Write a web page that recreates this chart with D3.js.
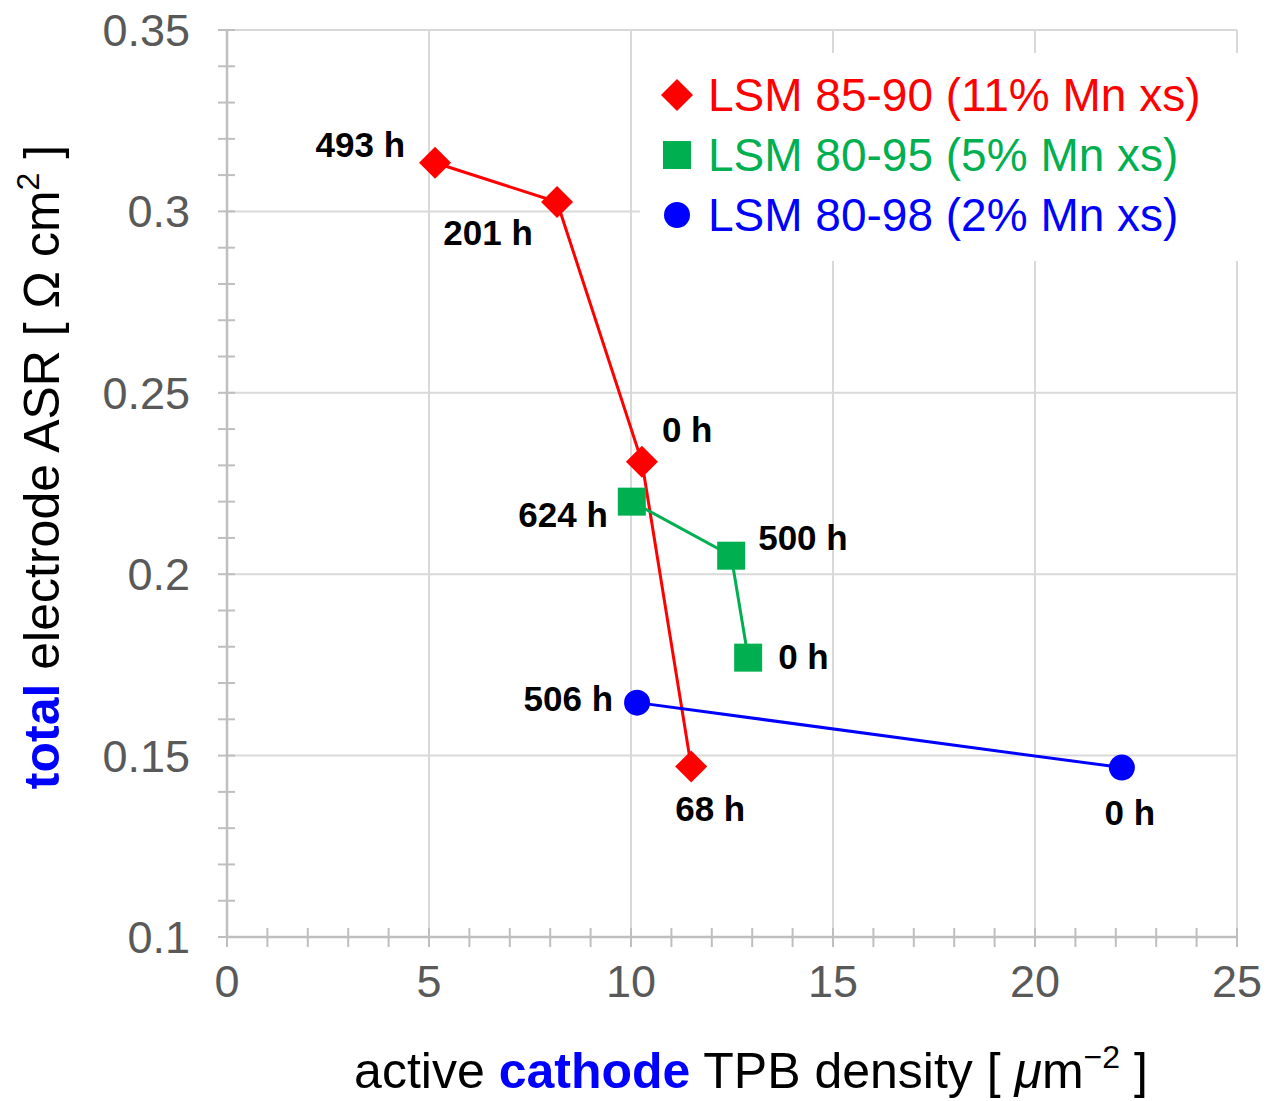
<!DOCTYPE html>
<html>
<head>
<meta charset="utf-8">
<script src="https://cdn.jsdelivr.net/npm/d3@7"></script>
<style>
  body { margin: 0; background: #fff; }
  svg { font-family: "Liberation Sans", Arial, Helvetica, sans-serif; }
</style>
</head>
<body>
<div id="chart"></div>
<script>
// series data: TPB density (x), ASR (y), ageing time labels
const seriesNames = ["LSM 85-90 (11% Mn xs)", "LSM 80-95 (5% Mn xs)", "LSM 80-98 (2% Mn xs)"];
const seriesColors = ["#ff0000", "#00b050", "#0000ff"];
const seriesShapes = ["diamond", "square", "circle"];

const redX = [5.15, 8.17, 10.27, 11.49];
const redY = [0.3134, 0.3026, 0.231, 0.147];
const redHours = ["493 h", "201 h", "0 h", "68 h"];

const greenX = [10.02, 12.48, 12.9];
const greenY = [0.220, 0.2051, 0.177];
const greenHours = ["624 h", "500 h", "0 h"];

const blueX = [10.15, 22.15];
const blueY = [0.1646, 0.1467];
const blueHours = ["506 h", "0 h"];

const xTicks = [0, 5, 10, 15, 20, 25];
const yTicks = [0.1, 0.15, 0.2, 0.25, 0.3, 0.35];

// label placement relative to each point: [dx, dy, anchor]
const redLabelPos = [[-30, -6, "end"], [-69, 43, "middle"], [20, -20, "start"], [19, 55, "middle"]];
const greenLabelPos = [[-24, 25, "end"], [27, -6, "start"], [30, 11, "start"]];
const blueLabelPos = [[-24, 8, "end"], [8, 57, "middle"]];

const series = [
  { x: redX, y: redY, hours: redHours, pos: redLabelPos },
  { x: greenX, y: greenY, hours: greenHours, pos: greenLabelPos },
  { x: blueX, y: blueY, hours: blueHours, pos: blueLabelPos }
];

const W = 1278, H = 1101;
const svg = d3.select("#chart").append("svg")
  .attr("width", W)
  .attr("height", H);

const xScale = d3.scaleLinear().domain([0, 25]).range([227, 1237]);
const yScale = d3.scaleLinear().domain([0.1, 0.35]).range([937, 30]);

const gridColor = "#d9d9d9";
const axisColor = "#bfbfbf";

// gridlines
svg.append("g").selectAll("line")
  .data(xTicks.slice(1))
  .enter().append("line")
  .attr("x1", d => xScale(d)).attr("x2", d => xScale(d))
  .attr("y1", yScale(0.35)).attr("y2", yScale(0.1))
  .attr("stroke", gridColor).attr("stroke-width", 2);

svg.append("g").selectAll("line")
  .data(yTicks.slice(1))
  .enter().append("line")
  .attr("x1", xScale(0)).attr("x2", xScale(25))
  .attr("y1", d => yScale(d)).attr("y2", d => yScale(d))
  .attr("stroke", gridColor).attr("stroke-width", 2);

// legend background covers the grid
svg.append("rect")
  .attr("x", 640).attr("y", 53)
  .attr("width", 602).attr("height", 208)
  .attr("fill", "#fff");

// axes with crossing ticks
const minorX = d3.range(0, 26, 1);
const minorY = d3.range(0.1, 0.3501, 0.01);

const xAxisG = svg.append("g");
xAxisG.append("line")
  .attr("x1", xScale(0)).attr("x2", xScale(25))
  .attr("y1", yScale(0.1)).attr("y2", yScale(0.1))
  .attr("stroke", axisColor).attr("stroke-width", 2.5);
xAxisG.selectAll("line.tick")
  .data(minorX)
  .enter().append("line")
  .attr("class", "tick")
  .attr("x1", d => xScale(d)).attr("x2", d => xScale(d))
  .attr("y1", yScale(0.1) - 9).attr("y2", yScale(0.1) + 10)
  .attr("stroke", axisColor).attr("stroke-width", 2);

const yAxisG = svg.append("g");
yAxisG.append("line")
  .attr("x1", xScale(0)).attr("x2", xScale(0))
  .attr("y1", yScale(0.35)).attr("y2", yScale(0.1))
  .attr("stroke", axisColor).attr("stroke-width", 2.5);
yAxisG.selectAll("line.tick")
  .data(minorY)
  .enter().append("line")
  .attr("class", "tick")
  .attr("x1", xScale(0) - 9).attr("x2", xScale(0) + 8)
  .attr("y1", d => yScale(d)).attr("y2", d => yScale(d))
  .attr("stroke", axisColor).attr("stroke-width", 2);

// tick labels
svg.append("g").selectAll("text")
  .data(xTicks)
  .enter().append("text")
  .attr("x", d => xScale(d))
  .attr("y", 997)
  .attr("text-anchor", "middle")
  .attr("font-size", 45)
  .attr("fill", "#595959")
  .text(d => d);

svg.append("g").selectAll("text")
  .data(yTicks)
  .enter().append("text")
  .attr("x", 190)
  .attr("y", d => yScale(d) + 16)
  .attr("text-anchor", "end")
  .attr("font-size", 45)
  .attr("fill", "#595959")
  .text(d => d);

// symbol helper
function drawMarker(g, shape, cx, cy, color) {
  if (shape === "diamond") {
    g.append("path")
      .attr("d", `M${cx},${cy - 16}L${cx + 16},${cy}L${cx},${cy + 16}L${cx - 16},${cy}Z`)
      .attr("fill", color);
  } else if (shape === "square") {
    g.append("rect")
      .attr("x", cx - 14).attr("y", cy - 14)
      .attr("width", 28).attr("height", 28)
      .attr("fill", color);
  } else {
    g.append("circle")
      .attr("cx", cx).attr("cy", cy).attr("r", 13)
      .attr("fill", color);
  }
}

const line = d3.line()
  .x(d => xScale(d[0]))
  .y(d => yScale(d[1]));

series.forEach((s, i) => {
  const pts = s.x.map((x, j) => [x, s.y[j]]);
  const g = svg.append("g");
  g.append("path")
    .datum(pts)
    .attr("fill", "none")
    .attr("stroke", seriesColors[i])
    .attr("stroke-width", 3)
    .attr("d", line);
  pts.forEach(p => drawMarker(g, seriesShapes[i], xScale(p[0]), yScale(p[1]), seriesColors[i]));
  pts.forEach((p, j) => {
    const pos = s.pos[j];
    g.append("text")
      .attr("x", xScale(p[0]) + pos[0])
      .attr("y", yScale(p[1]) + pos[1])
      .attr("text-anchor", pos[2])
      .attr("font-size", 35)
      .attr("font-weight", "bold")
      .attr("fill", "#000")
      .text(s.hours[j]);
  });
});

// legend
const legend = svg.append("g");
seriesNames.forEach((name, i) => {
  const cy = 95 + i * 60;
  drawMarker(legend, seriesShapes[i], 677, cy, seriesColors[i]);
  legend.append("text")
    .attr("x", 708)
    .attr("y", cy + 16)
    .attr("font-size", 46)
    .attr("fill", seriesColors[i])
    .text(name);
});

// axis titles
const xTitle = svg.append("text")
  .attr("x", 751)
  .attr("y", 1088)
  .attr("text-anchor", "middle")
  .attr("font-size", 50)
  .attr("fill", "#000");
xTitle.append("tspan").text("active ");
xTitle.append("tspan").attr("fill", "#0000ff").attr("font-weight", "bold").text("cathode");
xTitle.append("tspan").text(" TPB density [ ");
xTitle.append("tspan").attr("font-style", "italic").text("μ");
xTitle.append("tspan").text("m");
xTitle.append("tspan").attr("dy", -20).attr("font-size", 32).text("−2");
xTitle.append("tspan").attr("dy", 20).text(" ]");

const yTitle = svg.append("text")
  .attr("transform", "translate(59,467) rotate(-90)")
  .attr("text-anchor", "middle")
  .attr("font-size", 50)
  .attr("fill", "#000");
yTitle.append("tspan").attr("fill", "#0000ff").attr("font-weight", "bold").text("total");
yTitle.append("tspan").text(" electrode ASR [ Ω cm");
yTitle.append("tspan").attr("dy", -20).attr("font-size", 32).text("2");
yTitle.append("tspan").attr("dy", 20).text(" ]");
</script>
</body>
</html>
